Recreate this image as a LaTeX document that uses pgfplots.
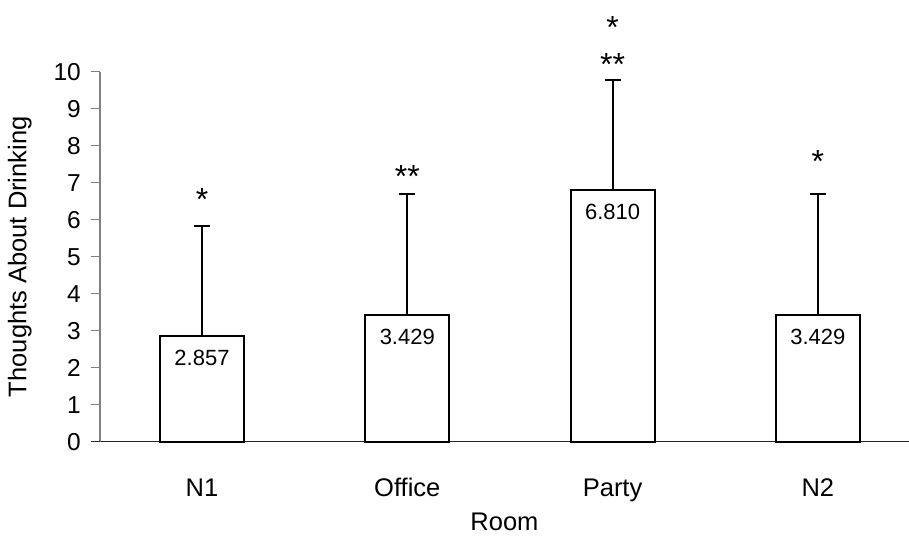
\documentclass[border=0pt]{standalone}
\usepackage{pgfplots}
\pgfplotsset{compat=1.18}
\usepackage{fontspec}
\setmainfont{Liberation Sans}
\newcommand{\tickfont}{\fontsize{24.5bp}{28bp}\selectfont}
\newcommand{\labfont}{\fontsize{25.5bp}{29bp}\selectfont}
\newcommand{\valfont}{\fontsize{22bp}{25bp}\selectfont}
\newcommand{\astfont}{\fontsize{32bp}{36bp}\selectfont}
\begin{document}
\begin{tikzpicture}
\begin{axis}[
  x=205.3bp, y=37bp,
  xmin=-0.497, xmax=3.444,
  ymin=0, ymax=10,
  clip=false,
  axis x line=bottom, axis y line=left,
  axis line style={-},
  x axis line style={black!85, line width=1bp},
  y axis line style={gray, line width=1.3bp},
  xtick={0,1,2,3},
  xticklabels={N1,Office,Party,N2},
  major x tick style={draw=none},
  ytick={0,1,...,10},
  tick align=outside,
  major tick length=9bp,
  major y tick style={gray, line width=1bp},
  /pgf/number format/assume math mode=true,
  yticklabel style={font=\tickfont, inner sep=0pt, anchor=east, xshift=-10bp},
  xticklabel style={font=\labfont, inner sep=0pt, anchor=base, yshift=-46bp},
  xlabel={Room},
  ylabel={Thoughts About Drinking},
  xlabel style={font=\labfont, at={(axis description cs:0.5,-0.216)}, anchor=center},
  ylabel style={font=\labfont, at={(axis description cs:-0.08,0.5)}, anchor=south},
]
\addplot[ybar, bar width=84bp, fill=white, draw=black, line width=2bp,
  nodes near coords={\pgfmathprintnumber[fixed,fixed zerofill,precision=3]{\pgfplotspointmeta}},
  every node near coord/.style={font=\valfont, anchor=center, yshift=-22bp, black},
  error bars/.cd, y dir=plus, y explicit,
  error bar style={line width=2bp, black},
  error mark options={black, mark size=8bp, line width=2bp, rotate=90}]
  table[x=x, y=y, y error=e] {
x y e
0 2.857 2.97
1 3.429 3.28
2 6.810 2.97
3 3.429 3.27
};
\draw[black!85, line width=1bp] (axis cs:-0.541,0) -- (axis cs:-0.497,0);
\node[font=\astfont, inner sep=0pt, anchor=north] at (axis cs:0,6.86) {*};
\node[font=\astfont, inner sep=0pt, anchor=north] at (axis cs:1,7.48) {**};
\node[font=\astfont, inner sep=0pt, anchor=north] at (axis cs:2,10.50) {**};
\node[font=\astfont, inner sep=0pt, anchor=north] at (axis cs:2,11.49) {*};
\node[font=\astfont, inner sep=0pt, anchor=north] at (axis cs:3,7.88) {*};
\coordinate (bbA) at (axis cs:-0.984,-2.576);
\coordinate (bbB) at (axis cs:3.444,11.94);
\end{axis}
\pgfresetboundingbox
\path[use as bounding box] (bbA) rectangle (bbB);
\end{tikzpicture}
\end{document}
